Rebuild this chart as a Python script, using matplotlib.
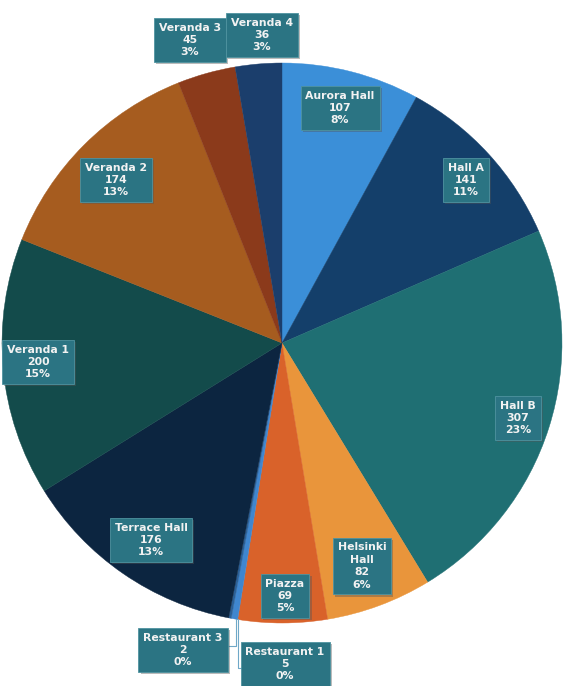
import matplotlib
matplotlib.use("Agg")
import matplotlib.pyplot as plt
import matplotlib.patheffects as pe

names = ["Aurora Hall", "Hall A", "Hall B", "Helsinki\nHall", "Piazza", "Restaurant 1",
         "Restaurant 3", "Terrace Hall", "Veranda 1", "Veranda 2", "Veranda 3", "Veranda 4"]
values = [107, 141, 307, 82, 69, 5, 2, 176, 200, 174, 45, 36]
percents = ["8%", "11%", "23%", "6%", "5%", "0%", "0%", "13%", "15%", "13%", "3%", "3%"]
colors = ["#3b8fd8", "#143f6a", "#1f6f73", "#e9953b", "#d9622a", "#3f86cf",
          "#2a5f96", "#0c2540", "#134b4b", "#a65c1f", "#8b3a1b", "#1b3e6c"]

# label box centres in pixel coordinates (x, y from top)
label_pos = [(340, 108), (466, 180), (518, 418), (362, 566), (285, 596), (285, 664),
             (183, 650), (151, 540), (38, 362), (116, 180), (190, 40), (262, 35)]

W, H = 563, 686
fig = plt.figure(figsize=(W / 100, H / 100), dpi=100)
ax = fig.add_axes([0, 0, 1, 1])

cx, cy, r = 282, H - 343, 280
wedges, _ = ax.pie(values, colors=colors, startangle=90, counterclock=False,
                   center=(cx, cy), radius=r, frame=True)
for w, c in zip(wedges, colors):
    w.set_edgecolor(c)
    w.set_linewidth(0.3)
ax.set_xlim(0, W)
ax.set_ylim(0, H)
ax.set_aspect("equal")
ax.axis("off")

# leader lines for tiny slices
ax.plot([236, 236, 222], [H - 619, H - 646, H - 646], color="#6fa8c8", lw=0.8)
ax.plot([238, 238, 246], [H - 619, H - 668, H - 668], color="#6fa8c8", lw=0.8)

for n, v, p, (x, y) in zip(names, values, percents, label_pos):
    t = ax.text(x, H - y, f"{n}\n{v}\n{p}", ha="center", va="center",
                color="#f2f2f2", fontsize=7.8, fontweight="bold", linespacing=1.3,
                family="DejaVu Sans",
                bbox=dict(boxstyle="square,pad=0.45", facecolor="#2b7483",
                          edgecolor="#4f93a0", linewidth=0.6))
    t.get_bbox_patch().set_path_effects([
        pe.SimplePatchShadow(offset=(1.5, -1.5), shadow_rgbFace="#555555", alpha=0.4),
        pe.Normal()])

fig.savefig("out.png", dpi=100)
